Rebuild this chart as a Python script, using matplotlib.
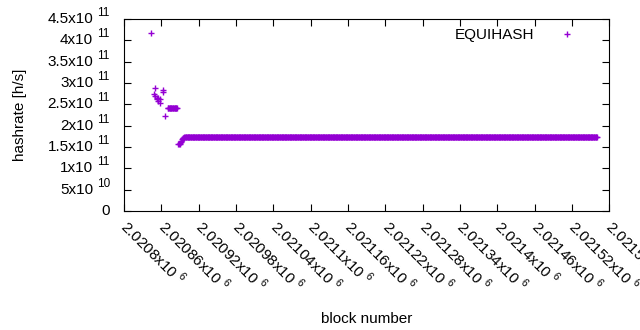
import numpy as np
import matplotlib
matplotlib.use('Agg')
import matplotlib.pyplot as plt
import matplotlib.transforms as mtransforms
from matplotlib.ticker import FuncFormatter, MultipleLocator, NullFormatter

plt.rcParams['font.family'] = ['Liberation Sans', 'DejaVu Sans']
plt.rcParams['mathtext.fontset'] = 'custom'
plt.rcParams['mathtext.rm'] = 'Liberation Sans'

# sparse early blocks
sparse_blocks = [2020843, 2020848, 2020849, 2020850, 2020852, 2020853, 2020854,
                 2020855, 2020857, 2020858, 2020862, 2020863, 2020866]
sparse_rates = [4.18e11, 2.74e11, 2.89e11, 2.69e11, 2.64e11, 2.62e11, 2.58e11,
                2.66e11, 2.54e11, 2.63e11, 2.84e11, 2.80e11, 2.23e11]

# plateau after the sparse part
plateau_start, plateau_end, plateau_rate = 2020870, 2020885, 2.41e11

# dip and recovery
dip_blocks = [2020887, 2020888, 2020889, 2020890, 2020891, 2020892, 2020893,
              2020894, 2020895, 2020896]
dip_rates = [1.57e11, 1.58e11, 1.58e11, 1.60e11, 1.62e11, 1.65e11, 1.68e11,
             1.70e11, 1.71e11, 1.72e11]

# long flat section
flat_start, flat_end, flat_rate = 2020897, 2021560, 1.73e11

y_ticks = [0, 5e10, 1e11, 1.5e11, 2e11, 2.5e11, 3e11, 3.5e11, 4e11, 4.5e11]

blocks = np.concatenate([sparse_blocks,
                         np.arange(plateau_start, plateau_end + 1),
                         dip_blocks,
                         np.arange(flat_start, flat_end + 1)])
rates = np.concatenate([sparse_rates,
                        np.full(plateau_end - plateau_start + 1, plateau_rate),
                        dip_rates,
                        np.full(flat_end - flat_start + 1, flat_rate)])


def split_sci(v):
    e = int(np.floor(np.log10(abs(v)) + 1e-9))
    m = v / 10**e
    ms = ('%.6f' % m).rstrip('0').rstrip('.')
    return ms, e


def sci(v, pos=None):
    if v == 0:
        return '0'
    ms, e = split_sci(v)
    return ms + r'x10 $^{%d}$' % e


fs = 11
fig = plt.figure(figsize=(6.4, 3.3), dpi=100)
ax = fig.add_axes([0.194, 0.361, 0.758, 0.581])
ax.plot(blocks, rates, '+', color='#9400d3', markersize=5, markeredgewidth=1.0,
        label='EQUIHASH')

ax.set_xlim(2020800, 2021580)
ax.set_ylim(0, 4.5e11)
ax.xaxis.set_major_locator(MultipleLocator(60))
ax.set_yticks(y_ticks)
ax.xaxis.set_major_formatter(FuncFormatter(sci))
ax.yaxis.set_major_formatter(NullFormatter())
ax.tick_params(direction='in', top=True, right=True, labelsize=fs, length=5)
ax.tick_params(axis='x', pad=9)
for lab in ax.get_xticklabels():
    lab.set_rotation(-45)
    lab.set_ha('left')
    lab.set_va('center')
    lab.set_rotation_mode('anchor')

# gnuplot-like y tick labels: mantissa plus raised exponent
ytr = ax.get_yaxis_transform()
for v in y_ticks:
    if v == 0:
        t = mtransforms.offset_copy(ytr, fig=fig, x=-14, y=0, units='dots')
        ax.text(0, v, '0', transform=t, ha='right', va='center', fontsize=fs)
        continue
    ms, e = split_sci(v)
    t1 = mtransforms.offset_copy(ytr, fig=fig, x=-31, y=0, units='dots')
    t2 = mtransforms.offset_copy(ytr, fig=fig, x=-27, y=6, units='dots')
    ax.text(0, v, ms + 'x10', transform=t1, ha='right', va='center', fontsize=fs)
    ax.text(0, v, str(e), transform=t2, ha='left', va='center', fontsize=8.5)

ax.set_xlabel('block number', fontsize=fs, labelpad=12)
ax.set_ylabel('hashrate [h/s]', fontsize=fs)
ax.yaxis.set_label_coords(-0.2, 0.5)
ax.legend(loc='upper right', frameon=False, markerfirst=False, fontsize=fs,
          handlelength=4.3, borderaxespad=0.2, handletextpad=0.0)

fig.savefig('out.png', dpi=100)
